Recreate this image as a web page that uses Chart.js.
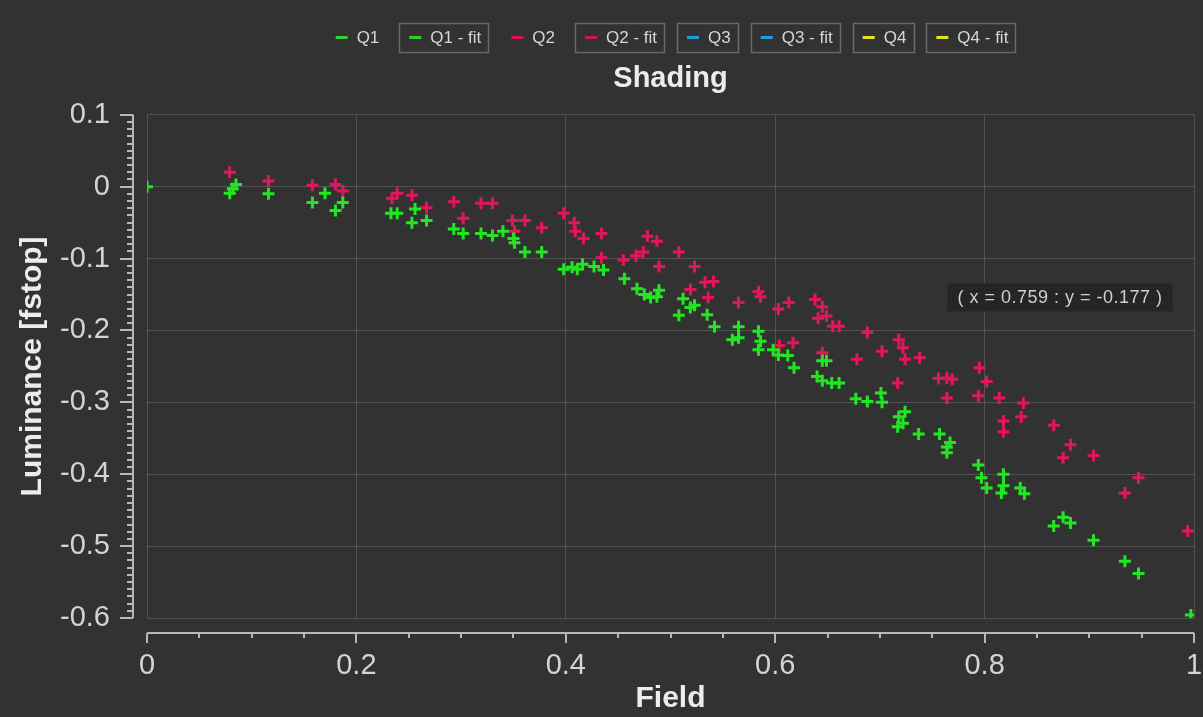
<!DOCTYPE html>
<html lang="en">
<head>
<meta charset="UTF-8">
<title>Shading</title>
<script src="https://cdn.jsdelivr.net/npm/chart.js"></script>
<style>
  html, body { margin: 0; padding: 0; background: #323232; }
</style>
</head>
<body>
<canvas id="shadingChart" width="1203" height="717"></canvas>
<script>
// Q1 (green) field positions and luminance
const q1X = [0, 0.079, 0.082, 0.085, 0.116, 0.158, 0.170, 0.180, 0.187, 0.233, 0.239, 0.253, 0.256, 0.267,
  0.293, 0.302, 0.319, 0.330, 0.340, 0.350, 0.351, 0.361, 0.377, 0.398, 0.406, 0.411, 0.416, 0.427, 0.436,
  0.456, 0.468, 0.475, 0.481, 0.487, 0.489, 0.508, 0.512, 0.519, 0.523, 0.535, 0.542, 0.559, 0.565, 0.565,
  0.584, 0.586, 0.584, 0.598, 0.603, 0.612, 0.618, 0.640, 0.645, 0.645, 0.649, 0.654, 0.661, 0.677, 0.688,
  0.701, 0.702, 0.717, 0.718, 0.724, 0.722, 0.737, 0.757, 0.764, 0.767, 0.764, 0.794, 0.797, 0.802, 0.818,
  0.818, 0.816, 0.834, 0.838, 0.866, 0.875, 0.882, 0.904, 0.934, 0.947, 0.997];
const q1Y = [0, -0.009, -0.003, 0.003, -0.010, -0.022, -0.009, -0.033, -0.022, -0.037, -0.037, -0.050, -0.031, -0.047,
  -0.059, -0.065, -0.065, -0.068, -0.062, -0.072, -0.078, -0.091, -0.091, -0.115, -0.112, -0.115, -0.108, -0.111, -0.116,
  -0.128, -0.142, -0.150, -0.154, -0.153, -0.144, -0.179, -0.156, -0.168, -0.165, -0.178, -0.195, -0.213, -0.210, -0.195,
  -0.227, -0.215, -0.201, -0.227, -0.234, -0.235, -0.252, -0.264, -0.270, -0.242, -0.242, -0.273, -0.273, -0.295, -0.299,
  -0.287, -0.300, -0.334, -0.320, -0.313, -0.329, -0.344, -0.344, -0.362, -0.356, -0.370, -0.387, -0.405, -0.419, -0.400,
  -0.416, -0.426, -0.419, -0.427, -0.472, -0.460, -0.468, -0.492, -0.521, -0.538, -0.596];

// Q2 (red)
const q2X = [0.079, 0.116, 0.158, 0.180, 0.187, 0.234, 0.239, 0.253, 0.267, 0.293, 0.302, 0.319, 0.330, 0.349,
  0.351, 0.361, 0.377, 0.398, 0.408, 0.409, 0.417, 0.434, 0.434, 0.455, 0.467, 0.474, 0.478, 0.487, 0.489,
  0.508, 0.523, 0.519, 0.533, 0.541, 0.536, 0.565, 0.584, 0.586, 0.603, 0.613, 0.604, 0.617, 0.638, 0.645,
  0.641, 0.649, 0.655, 0.661, 0.645, 0.678, 0.688, 0.702, 0.718, 0.722, 0.724, 0.738, 0.717, 0.756, 0.764,
  0.764, 0.769, 0.795, 0.802, 0.794, 0.814, 0.837, 0.835, 0.818, 0.818, 0.866, 0.882, 0.875, 0.904, 0.947,
  0.934, 0.994];
const q2Y = [0.020, 0.008, 0.002, 0.003, -0.006, -0.016, -0.009, -0.012, -0.029, -0.021, -0.044, -0.023, -0.023, -0.047,
  -0.062, -0.047, -0.057, -0.037, -0.050, -0.062, -0.072, -0.065, -0.099, -0.102, -0.096, -0.091, -0.069, -0.076, -0.111,
  -0.091, -0.111, -0.143, -0.133, -0.132, -0.154, -0.161, -0.146, -0.153, -0.170, -0.161, -0.221, -0.217, -0.157, -0.167,
  -0.183, -0.180, -0.194, -0.194, -0.231, -0.240, -0.203, -0.229, -0.213, -0.224, -0.240, -0.238, -0.273, -0.267, -0.266,
  -0.294, -0.268, -0.252, -0.271, -0.291, -0.294, -0.301, -0.320, -0.326, -0.341, -0.332, -0.359, -0.377, -0.374, -0.405,
  -0.426, -0.479];

const seriesNames = ['Q1', 'Q1 - fit', 'Q2', 'Q2 - fit', 'Q3', 'Q3 - fit', 'Q4', 'Q4 - fit'];
const seriesColors = ['#2fd02f', '#2fd02f', '#d8134f', '#d8134f', '#1f9ddc', '#1f9ddc', '#e4e21c', '#e4e21c'];
const boxedItems = [false, true, false, true, true, true, true, true];
const markerGreen = '#22e622';
const markerRed = '#e2175a';

const readout = { x: 0.872, y: -0.154, text: '( x = 0.759 : y = -0.177 )' };

const FONT = '"Liberation Sans", Arial, sans-serif';

function toPoints(xs, ys) {
  return xs.map((x, i) => ({ x: x, y: ys[i] }));
}

function fmt(v) {
  return String(+Number(v).toFixed(2));
}

const seriesData = {
  'Q1': toPoints(q1X, q1Y),
  'Q2': toPoints(q2X, q2Y)
};

const datasets = seriesNames.map((name, i) => ({
  label: name,
  data: seriesData[name] || [],
  pointStyle: 'cross',
  pointRadius: 6,
  pointBorderWidth: 3,
  pointBorderColor: name === 'Q1' ? markerGreen : name === 'Q2' ? markerRed : seriesColors[i],
  borderColor: seriesColors[i],
  showLine: false
}));

// hand-drawn axis lines with minor ticks, offset from the plot like the original
const axisPlugin = {
  id: 'axisLines',
  afterDraw(chart) {
    const { ctx, chartArea, scales } = chart;
    const xs = scales.x, ys = scales.y;
    ctx.save();
    ctx.strokeStyle = '#b8b8b8';
    ctx.lineWidth = 2;
    const ax = Math.round(chartArea.left - 14);
    const ay = Math.round(chartArea.bottom + 15);
    ctx.beginPath();
    ctx.moveTo(ax, ys.getPixelForValue(ys.max));
    ctx.lineTo(ax, ys.getPixelForValue(ys.min));
    for (let i = 0; i <= 70; i++) {
      const p = Math.round(ys.getPixelForValue(ys.min + i * 0.01));
      const len = i % 10 === 0 ? 13 : 6;
      ctx.moveTo(ax, p);
      ctx.lineTo(ax - len, p);
    }
    ctx.moveTo(xs.getPixelForValue(xs.min), ay);
    ctx.lineTo(xs.getPixelForValue(xs.max), ay);
    for (let i = 0; i <= 20; i++) {
      const p = Math.round(xs.getPixelForValue(xs.min + i * 0.05));
      const len = i % 4 === 0 ? 10 : 5;
      ctx.moveTo(p, ay);
      ctx.lineTo(p, ay + len);
    }
    ctx.stroke();
    ctx.restore();
  }
};

// legend row with framed entries, centred on the plot
const legendPlugin = {
  id: 'boxLegend',
  afterDraw(chart) {
    const { ctx, chartArea } = chart;
    ctx.save();
    ctx.font = '17px ' + FONT;
    const padL = 10, mark = 12, gap = 9, padR = 7, between = 13;
    const widths = seriesNames.map(n => padL + mark + gap + ctx.measureText(n).width + padR);
    const total = widths.reduce((a, b) => a + b, 0) + between * (widths.length - 1);
    let x = (chartArea.left + chartArea.right) / 2 - total / 2;
    const top = 23, h = 29, cy = top + h / 2;
    seriesNames.forEach((name, i) => {
      const w = widths[i];
      if (boxedItems[i]) {
        ctx.strokeStyle = '#6a6a6a';
        ctx.lineWidth = 1.5;
        ctx.strokeRect(Math.round(x) + 0.5, top + 0.5, Math.round(w), h);
      }
      ctx.strokeStyle = seriesColors[i];
      ctx.lineWidth = 3;
      ctx.beginPath();
      ctx.moveTo(x + padL, cy);
      ctx.lineTo(x + padL + mark, cy);
      ctx.stroke();
      ctx.fillStyle = '#d6d6d6';
      ctx.textBaseline = 'middle';
      ctx.textAlign = 'left';
      ctx.fillText(name, x + padL + mark + gap, cy + 1);
      x += w + between;
    });

    // cursor readout box
    const xs = chart.scales.x, ys = chart.scales.y;
    const rx = xs.getPixelForValue(readout.x), ry = ys.getPixelForValue(readout.y);
    ctx.font = '18px ' + FONT;
    ctx.letterSpacing = '0.5px';
    const tw = ctx.measureText(readout.text).width;
    ctx.fillStyle = '#252525';
    ctx.fillRect(rx - tw / 2 - 10, ry - 14, tw + 20, 28);
    ctx.fillStyle = '#cfcfcf';
    ctx.textAlign = 'center';
    ctx.fillText(readout.text, rx, ry + 1);
    ctx.restore();
  }
};

new Chart(document.getElementById('shadingChart'), {
  type: 'scatter',
  data: { datasets: datasets },
  options: {
    responsive: false,
    animation: false,
    layout: { padding: { top: 55, left: 0, right: 9, bottom: 0 } },
    plugins: {
      legend: { display: false },
      tooltip: { enabled: false },
      title: {
        display: true,
        text: 'Shading',
        fullSize: false,
        color: '#ececec',
        font: { family: FONT, size: 29, weight: 'bold' },
        padding: { top: 7, bottom: 18 }
      }
    },
    scales: {
      x: {
        type: 'linear',
        min: 0,
        max: 1,
        afterFit: s => { s.height = 99; s.paddingLeft = 0; s.paddingRight = 0; },
        border: { display: false },
        grid: { color: 'rgba(255,255,255,0.16)', drawTicks: false },
        ticks: {
          stepSize: 0.2,
          padding: 31,
          maxRotation: 0,
          color: '#d4d4d4',
          font: { family: FONT, size: 29 },
          callback: v => fmt(v)
        },
        title: {
          display: true,
          text: 'Field',
          color: '#ececec',
          font: { family: FONT, size: 30, weight: 'bold' },
          padding: { top: 0, bottom: 0 }
        }
      },
      y: {
        type: 'linear',
        min: -0.6,
        max: 0.1,
        afterFit: s => { s.width = 147; },
        border: { display: false },
        grid: { color: 'rgba(255,255,255,0.16)', drawTicks: false },
        ticks: {
          stepSize: 0.1,
          padding: 37,
          color: '#d4d4d4',
          font: { family: FONT, size: 29 },
          callback: v => fmt(v)
        },
        title: {
          display: true,
          text: 'Luminance [fstop]',
          color: '#ececec',
          font: { family: FONT, size: 30, weight: 'bold' },
          padding: { top: 15, bottom: 15 }
        }
      }
    }
  },
  plugins: [axisPlugin, legendPlugin]
});
</script>
</body>
</html>
